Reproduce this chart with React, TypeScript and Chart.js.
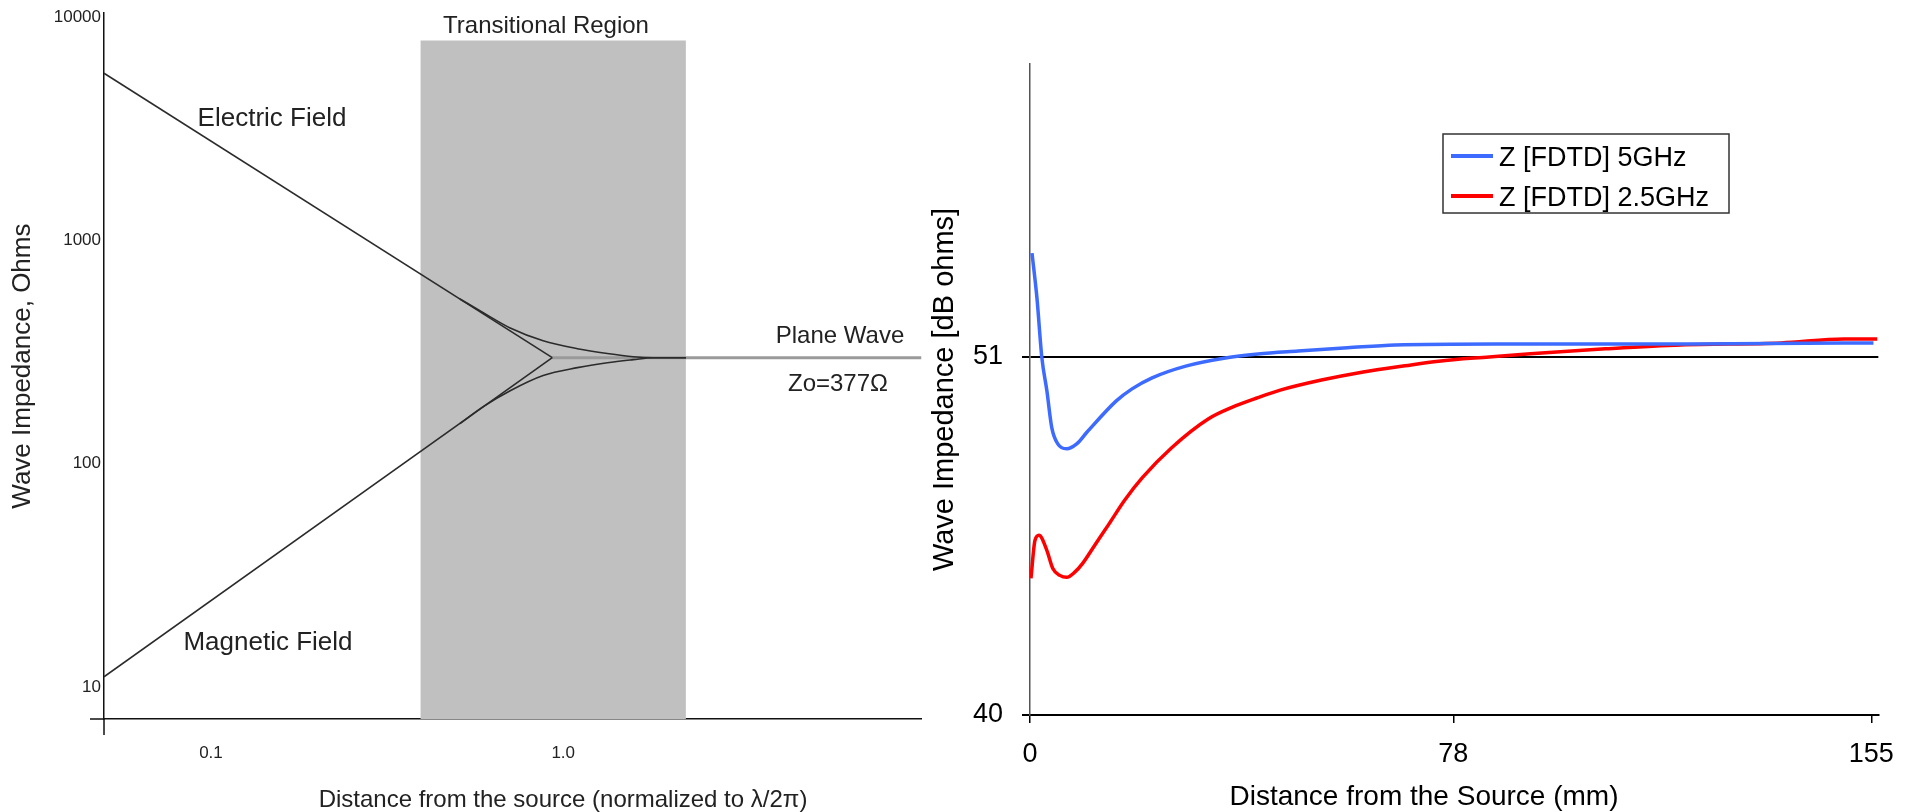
import React, { useEffect, useRef } from "react";
import { Chart, registerables } from "chart.js";
Chart.register(...registerables);

const FONT = "'Liberation Sans', Arial, Helvetica, sans-serif";

// ---------------- Left chart (log-log, schematic) ----------------
const LEFT_X_RANGE = [0.0497, 10.4];
const LEFT_Y_RANGE = [7.18, 10400];
const LEFT_X_TICKS = [0.1, 1];
const LEFT_X_TICK_LABELS = ["0.1", "1.0"];
const LEFT_Y_TICKS = [10, 100, 1000, 10000];
const LEFT_Y_TICK_LABELS = ["10", "100", "1000", "10000"];

const ASYMPTOTE_X = [0.0497, 0.931];
const ELECTRIC_ASYMPTOTE = [5600, 298];
const MAGNETIC_ASYMPTOTE = [11.1, 298];

const CURVE_X = [0.509, 0.593, 0.707, 0.877, 1.097, 1.334, 1.58, 1.8, 2.23];
const ELECTRIC_CURVE = [546, 474, 405, 355, 327, 311, 301, 298, 298];
const MAGNETIC_CURVE = [151, 180, 212, 248, 269, 283, 292, 298, 298];

const PLANE_WAVE_X = [0.931, 10.4];
const PLANE_WAVE_Z = [298, 298];

const REGION_X = [0.393, 2.23];
const REGION_TOP = [7850, 7850];

// ---------------- Right chart (FDTD results) ----------------
const R_X_RANGE = [0, 156.3];
const R_Y_RANGE = [40, 60];
const R_X_TICKS = [0, 78, 155];
const R_Y_TICKS = [40, 51];
const REF_LEVEL = 51;

const DIST_5GHZ = [0.37, 1.28, 2.19, 3.11, 4.02, 5.12, 6.76, 8.6, 10.4, 15.9, 18.8, 22.5, 28.7, 36.0, 42.0, 49.4, 58.5, 67.3, 85.9, 122.5, 149.9, 155.4];
const Z_5GHZ = [54.19, 52.81, 50.97, 49.96, 48.82, 48.33, 48.18, 48.33, 48.67, 49.65, 50.02, 50.36, 50.72, 50.97, 51.09, 51.18, 51.28, 51.37, 51.4, 51.4, 51.43, 51.43];

const DIST_25GHZ = [0.18, 0.91, 1.65, 3.1, 4.2, 5.5, 6.76, 8.2, 9.7, 11.9, 14.6, 17.4, 20.7, 26.1, 32.9, 37.2, 42.0, 46.1, 53.7, 61.4, 69.1, 75.3, 84.6, 92.2, 106.0, 119.9, 138.4, 149.9, 156.1];
const Z_25GHZ = [44.2, 45.36, 45.52, 45.06, 44.5, 44.29, 44.23, 44.38, 44.66, 45.21, 45.88, 46.59, 47.29, 48.21, 49.1, 49.45, 49.75, 49.98, 50.29, 50.54, 50.73, 50.87, 51.0, 51.1, 51.25, 51.37, 51.43, 51.55, 51.55];

const SERIES_LABELS = ["Z [FDTD] 5GHz", "Z [FDTD] 2.5GHz"];
const SERIES_COLORS = ["#3d6bff", "#ff0000"];

const pts = (xs: number[], ys: number[]) => xs.map((x, i) => ({ x, y: ys[i] }));

const leftDecor = {
  id: "leftDecor",
  afterDraw(chart: any) {
    const { ctx, chartArea: a } = chart;
    ctx.save();
    ctx.strokeStyle = "#111";
    ctx.lineWidth = 1.5;
    ctx.beginPath();
    ctx.moveTo(a.left - 14, a.bottom);
    ctx.lineTo(a.left, a.bottom);
    ctx.moveTo(a.left, a.bottom);
    ctx.lineTo(a.left, a.bottom + 16);
    ctx.stroke();
    ctx.fillStyle = "#222";
    ctx.textAlign = "center";
    ctx.textBaseline = "middle";
    ctx.font = `24px ${FONT}`;
    ctx.fillText("Transitional Region", 546, 26);
    ctx.fillText("Plane Wave", 840, 336);
    ctx.fillText("Zo=377\u03A9", 838, 384);
    ctx.fillText("Distance from the source (normalized to \u03BB/2\u03C0)", 563, 800);
    ctx.font = `26px ${FONT}`;
    ctx.fillText("Electric Field", 272, 119);
    ctx.fillText("Magnetic Field", 268, 643);
    ctx.restore();
  },
};

const rightDecor = {
  id: "rightDecor",
  afterDraw(chart: any) {
    const { ctx } = chart;
    ctx.save();
    ctx.fillStyle = "#000";
    ctx.textAlign = "center";
    ctx.textBaseline = "middle";
    ctx.font = `28px ${FONT}`;
    ctx.fillText("Distance from the Source (mm)", 496, 797);
    // legend
    ctx.fillStyle = "#fff";
    ctx.fillRect(515, 134, 286, 79);
    ctx.strokeStyle = "#333";
    ctx.lineWidth = 1.5;
    ctx.strokeRect(515, 134, 286, 79);
    const rows = [156, 196];
    rows.forEach((y, i) => {
      ctx.strokeStyle = SERIES_COLORS[i];
      ctx.lineWidth = 4;
      ctx.beginPath();
      ctx.moveTo(523, y);
      ctx.lineTo(565, y);
      ctx.stroke();
      ctx.fillStyle = "#000";
      ctx.textAlign = "left";
      ctx.textBaseline = "alphabetic";
      ctx.font = `27px ${FONT}`;
      ctx.fillText(SERIES_LABELS[i], 571, y + 10);
    });
    ctx.restore();
  },
};

function leftConfig(): any {
  const lineStyle = { borderColor: "#2b2b2b", borderWidth: 1.6, pointRadius: 0, fill: false };
  return {
    type: "line",
    data: {
      datasets: [
        { label: "Electric Field", data: pts(ASYMPTOTE_X, ELECTRIC_ASYMPTOTE), ...lineStyle, order: 1 },
        { label: "Magnetic Field", data: pts(ASYMPTOTE_X, MAGNETIC_ASYMPTOTE), ...lineStyle, order: 1 },
        { label: "E curve", data: pts(CURVE_X, ELECTRIC_CURVE), ...lineStyle, cubicInterpolationMode: "monotone", order: 1 },
        { label: "H curve", data: pts(CURVE_X, MAGNETIC_CURVE), ...lineStyle, cubicInterpolationMode: "monotone", order: 1 },
        { label: "Plane Wave", data: pts(PLANE_WAVE_X, PLANE_WAVE_Z), borderColor: "#9a9a9a", borderWidth: 3, pointRadius: 0, fill: false, order: 2 },
        { label: "Transitional Region", data: pts(REGION_X, REGION_TOP), borderColor: "rgba(0,0,0,0)", borderWidth: 0, pointRadius: 0, fill: "start", backgroundColor: "#c0c0c0", order: 10 },
      ],
    },
    options: {
      animation: false,
      responsive: false,
      devicePixelRatio: 1,
      layout: { padding: { top: 12, right: 6.5, left: 0, bottom: 0 } },
      plugins: { legend: { display: false }, tooltip: { enabled: false } },
      scales: {
        x: {
          type: "logarithmic",
          min: LEFT_X_RANGE[0],
          max: LEFT_X_RANGE[1],
          afterBuildTicks: (s: any) => { s.ticks = LEFT_X_TICKS.map((v) => ({ value: v })); },
          afterFit: (s: any) => { s.height = 93; },
          ticks: {
            autoSkip: false, maxRotation: 0, padding: 24, color: "#222",
            font: { family: FONT, size: 17 },
            callback: (v: any) => LEFT_X_TICK_LABELS[LEFT_X_TICKS.indexOf(Number(v))] ?? "",
          },
          grid: { display: false, drawTicks: false },
          border: { display: true, color: "#111", width: 1.5 },
        },
        y: {
          type: "logarithmic",
          min: LEFT_Y_RANGE[0],
          max: LEFT_Y_RANGE[1],
          afterBuildTicks: (s: any) => { s.ticks = LEFT_Y_TICKS.map((v) => ({ value: v })); },
          afterFit: (s: any) => { s.width = 104; },
          ticks: {
            autoSkip: false, padding: 3, color: "#222",
            font: { family: FONT, size: 17 },
            callback: (v: any) => LEFT_Y_TICK_LABELS[LEFT_Y_TICKS.indexOf(Number(v))] ?? "",
          },
          grid: { display: false, drawTicks: false },
          border: { display: true, color: "#111", width: 1.5 },
          title: { display: true, text: "Wave Impedance, Ohms", color: "#222", font: { family: FONT, size: 26 }, padding: { top: 7, bottom: 0 } },
        },
      },
    },
    plugins: [leftDecor],
  };
}

function rightConfig(): any {
  return {
    type: "line",
    data: {
      datasets: [
        { label: SERIES_LABELS[0], data: pts(DIST_5GHZ, Z_5GHZ), borderColor: SERIES_COLORS[0], borderWidth: 3.5, pointRadius: 0, cubicInterpolationMode: "monotone", fill: false },
        { label: SERIES_LABELS[1], data: pts(DIST_25GHZ, Z_25GHZ), borderColor: SERIES_COLORS[1], borderWidth: 3.5, pointRadius: 0, cubicInterpolationMode: "monotone", fill: false },
      ],
    },
    options: {
      animation: false,
      responsive: false,
      devicePixelRatio: 1,
      layout: { padding: { top: 64, right: 24, left: 0, bottom: 0 } },
      plugins: { legend: { display: false }, tooltip: { enabled: false } },
      scales: {
        x: {
          type: "linear",
          min: R_X_RANGE[0],
          max: R_X_RANGE[1],
          afterBuildTicks: (s: any) => { s.ticks = R_X_TICKS.map((v) => ({ value: v })); },
          afterFit: (s: any) => { s.height = 97; },
          ticks: { autoSkip: false, maxRotation: 0, padding: 15, color: "#000", font: { family: FONT, size: 27 }, callback: (v: any) => String(v) },
          grid: { display: true, drawOnChartArea: false, drawTicks: true, tickLength: 8, color: "#000", tickColor: "#000", lineWidth: 1.5 },
          border: { display: true, color: "#000", width: 2 },
        },
        y: {
          type: "linear",
          min: R_Y_RANGE[0],
          max: R_Y_RANGE[1],
          afterBuildTicks: (s: any) => { s.ticks = R_Y_TICKS.map((v) => ({ value: v })); },
          afterFit: (s: any) => { s.width = 102; },
          ticks: { autoSkip: false, padding: 19, color: "#000", font: { family: FONT, size: 27 }, callback: (v: any) => String(v) },
          grid: {
            display: true, drawOnChartArea: true, drawTicks: true, tickLength: 8,
            color: (c: any) => (c.tick && c.tick.value === REF_LEVEL ? "#000" : "rgba(0,0,0,0)"),
            tickColor: "#000", lineWidth: 2,
          },
          border: { display: true, color: "#555", width: 1.5 },
          title: { display: true, text: "Wave Impedance [dB ohms]", color: "#000", font: { family: FONT, size: 29 }, padding: { top: 0, bottom: 0 } },
        },
      },
    },
    plugins: [rightDecor],
  };
}

export default function App() {
  const leftRef = useRef<HTMLCanvasElement>(null);
  const rightRef = useRef<HTMLCanvasElement>(null);
  useEffect(() => {
    const l = new Chart(leftRef.current as HTMLCanvasElement, leftConfig());
    const r = new Chart(rightRef.current as HTMLCanvasElement, rightConfig());
    return () => { l.destroy(); r.destroy(); };
  }, []);
  return (
    <div style={{ position: "absolute", left: 0, top: 0, width: 1909, height: 812, background: "#fff", overflow: "hidden" }}>
      <canvas ref={leftRef} width={928} height={812} style={{ position: "absolute", left: 0, top: 0, width: 928, height: 812 }} />
      <canvas ref={rightRef} width={981} height={812} style={{ position: "absolute", left: 928, top: 0, width: 981, height: 812 }} />
    </div>
  );
}
